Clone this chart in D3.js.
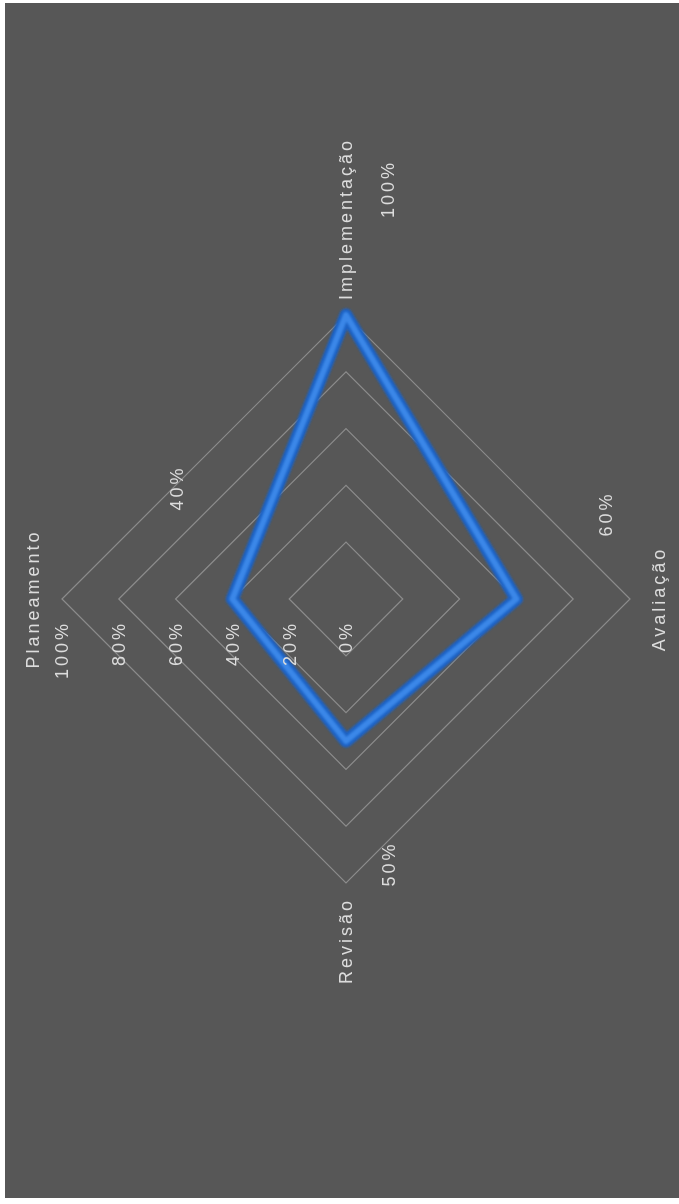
<!DOCTYPE html>
<html>
<head>
<meta charset="utf-8">
<script src="https://cdn.jsdelivr.net/npm/d3@7"></script>
<style>
  body { margin: 0; background: #fff; }
  svg { display: block; }
</style>
</head>
<body>
<div id="chart"></div>
<script>
const categories = ["Planeamento", "Implementação", "Avaliação", "Revisão"];
const values = [0.4, 1.0, 0.6, 0.5];
const valueLabels = ["40%", "100%", "60%", "50%"];
const ticks = [0, 0.2, 0.4, 0.6, 0.8, 1.0];
const tickLabels = ["0%", "20%", "40%", "60%", "80%", "100%"];

// where each data label sits, relative to its point (chart drawn upright, then turned)
const valueLabelOffsets = [[111, -56], [126, 42], [85, 89], [-123, 43]];

const width = 679;
const height = 1204;
const radius = 284;
const textColor = "#dcdcdc";
const font = "'Liberation Sans', Arial, sans-serif";

const svg = d3.select("#chart").append("svg")
    .attr("width", width)
    .attr("height", height);

svg.append("rect")
    .attr("x", 5).attr("y", 3)
    .attr("width", width - 5).attr("height", 1195)
    .attr("fill", "#575757");

const defs = svg.append("defs");
defs.append("filter").attr("id", "soft")
    .append("feGaussianBlur").attr("stdDeviation", 0.8);
defs.append("filter").attr("id", "softText")
    .append("feGaussianBlur").attr("stdDeviation", 0.35);

const r = d3.scaleLinear().domain([0, 1]).range([0, radius]);
const angle = d3.scaleLinear().domain([0, categories.length]).range([0, 2 * Math.PI]);

// the whole radar is turned a quarter to the left, like the scanned page
const g = svg.append("g")
    .attr("transform", "translate(346,599) rotate(-90)");

const ring = d3.lineRadial()
    .angle((d, i) => angle(i))
    .radius(d => r(d))
    .curve(d3.curveLinearClosed);

g.selectAll(".grid")
    .data(ticks.filter(t => t > 0))
    .enter()
    .append("path")
    .attr("class", "grid")
    .attr("d", t => ring(categories.map(() => t)))
    .attr("fill", "none")
    .attr("stroke", "#8c8c8c")
    .attr("stroke-width", 1.2);

g.append("path")
    .attr("d", ring(values))
    .attr("fill", "none")
    .attr("stroke", "#1f62c4")
    .attr("stroke-width", 13)
    .attr("stroke-linejoin", "round")
    .attr("filter", "url(#soft)");

g.append("path")
    .attr("d", ring(values))
    .attr("fill", "none")
    .attr("stroke", "#3b87e8")
    .attr("stroke-width", 6)
    .attr("stroke-linejoin", "round")
    .attr("filter", "url(#soft)");

const text = g.append("g")
    .attr("font-family", font)
    .attr("font-size", "18px")
    .attr("letter-spacing", "3px")
    .attr("fill", textColor)
    .attr("filter", "url(#softText)");

// tick labels along the first axis
text.selectAll(".tick")
    .data(ticks)
    .enter()
    .append("text")
    .attr("x", -22)
    .attr("y", t => -r(t))
    .attr("dy", "0.35em")
    .attr("text-anchor", "end")
    .text((t, i) => tickLabels[i]);

// category names at the ends of the axes
text.selectAll(".cat")
    .data(categories)
    .enter()
    .append("text")
    .each(function (d, i) {
        const a = angle(i);
        const s = Math.sin(a), c = Math.cos(a);
        const side = Math.abs(s) > 0.5;
        const pad = side ? 15 : 29;
        d3.select(this)
            .attr("x", s * (r(1) + pad))
            .attr("y", -c * (r(1) + pad))
            .attr("dy", "0.35em")
            .attr("text-anchor", side ? (s > 0 ? "start" : "end") : "middle");
    })
    .text(d => d);

// data labels
text.selectAll(".val")
    .data(values)
    .enter()
    .append("text")
    .attr("x", (v, i) => Math.sin(angle(i)) * r(v) + valueLabelOffsets[i][0])
    .attr("y", (v, i) => -Math.cos(angle(i)) * r(v) + valueLabelOffsets[i][1])
    .attr("dy", "0.35em")
    .attr("text-anchor", "middle")
    .text((v, i) => valueLabels[i]);
</script>
</body>
</html>
